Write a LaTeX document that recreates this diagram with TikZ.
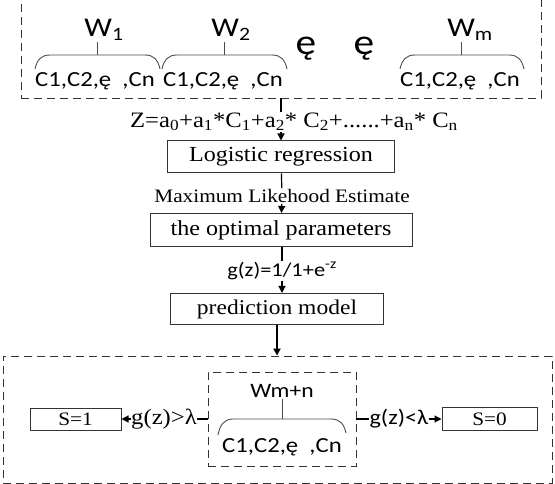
\documentclass[tikz,border=0pt]{standalone}
\usepackage{fontspec}
\setmainfont{Liberation Serif}[FakeStretch=1.12]
\newfontfamily\calibri{Carlito}[FakeStretch=1.15]
\usetikzlibrary{arrows.meta}

\begin{document}
\begin{tikzpicture}[x=1pt,y=-1pt]
    \tikzstyle{frame}=[rectangle,draw=black!80,line width=0.9pt,dash pattern=on 8pt off 5pt,inner sep=0pt]
    \tikzstyle{box}=[rectangle,draw=black!80,line width=1pt,inner sep=0pt,font=\fontsize{21.5}{21.5}\selectfont]
    \tikzstyle{lbl}=[inner sep=1pt,font=\fontsize{19}{19}\selectfont]
    \tikzstyle{slbl}=[inner sep=1pt,font=\calibri\fontsize{21.5}{21.5}\selectfont]
    \tikzstyle{arr}=[-{Triangle[length=7pt,width=7pt]},line width=1.2pt]
    \tikzstyle{brace}=[draw=black!70,line width=0.9pt]

    \useasboundingbox (0,0) rectangle (555,484);

    % Input groups
    \node [frame,minimum width=520pt,minimum height=112pt] (top) at (281,42) {};

    \node [slbl,font=\calibri\fontsize{27}{27}\selectfont] (w1) at (104,30) {W\textsubscript{1}};
    \node [slbl,font=\calibri\fontsize{27}{27}\selectfont] (w2) at (231,30) {W\textsubscript{2}};
    \node [slbl,font=\calibri\fontsize{27}{27}\selectfont] (wm) at (470,30) {W\textsubscript{m}};
    \node [slbl,font=\calibri\fontsize{36}{36}\selectfont] (e1) at (306,49) {ę};
    \node [slbl,font=\calibri\fontsize{36}{36}\selectfont] (e2) at (364,49) {ę};

    \coordinate (b1) at (97,55);
    \coordinate (b2) at (224,55);
    \coordinate (bm) at (461,55);
    \draw [brace] (w1.south -| b1) -- (b1);
    \draw [brace] (w2.south -| b2) -- (b2);
    \draw [brace] (wm.south -| bm) -- (bm);

    \draw [brace] (35,69) .. controls (37,60) and (41,55) .. (50,55) -- (145,55)
        .. controls (154,55) and (158,60) .. (160,69);
    \draw [brace] (162,69) .. controls (164,60) and (168,55) .. (177,55) -- (272,55)
        .. controls (281,55) and (285,60) .. (287,69);
    \draw [brace] (400,69) .. controls (402,60) and (406,55) .. (415,55) -- (509,55)
        .. controls (518,55) and (522,60) .. (524,69);

    \node [slbl] (c1) at (95,81) {C1,C2,ę\ \ ,Cn};
    \node [slbl] (c2) at (223,81) {C1,C2,ę\ \ ,Cn};
    \node [slbl] (cm) at (460,81) {C1,C2,ę\ \ ,Cn};

    % Regression steps
    \node [lbl,font=\fontsize{22}{22}\selectfont] (z) at (294,122) {Z=a\textsubscript{0}+a\textsubscript{1}*C\textsubscript{1}+a\textsubscript{2}* C\textsubscript{2}+......+a\textsubscript{n}* C\textsubscript{n}};
    \node [box,minimum width=227pt,minimum height=32pt] (logit) at (281,157) {Logistic regression};
    \node [lbl] (mle) at (282,196) {Maximum Likehood Estimate};
    \node [box,minimum width=262pt,minimum height=33pt] (optim) at (281,230) {the optimal parameters};
    \node [slbl,font=\calibri\fontsize{19.5}{19.5}\selectfont] (gz) at (282,271) {g(z)=1/1+e\textsuperscript{-z}};
    \node [box,minimum width=213pt,minimum height=31pt,font=\fontsize{21}{21}\selectfont] (pred) at (277,309) {prediction model};

    \draw [line width=1.2pt] (logit |- top.south) -- (logit |- z.north);
    \draw [arr] (logit |- z.south) -- (logit);
    \draw [line width=1.2pt] (logit) -- (mle);
    \draw [arr] (mle) -- (optim);
    \draw [line width=1.2pt] (gz |- optim.south) -- (gz.north);
    \draw [arr] (gz.south) -- (gz.south |- pred.north);

    % Output
    \node [frame,minimum width=549pt,minimum height=127pt] (out) at (277.5,419.5) {};
    \draw [arr,line width=2pt] (pred.south) -- (pred.south |- out.north);

    \node [frame,minimum width=148pt,minimum height=94pt] (wn) at (282,419) {};
    \node [slbl,font=\calibri\fontsize{20.5}{20.5}\selectfont] (wmn) at (282,391) {Wm+n};
    \coordinate (bn) at (282,419);
    \draw [brace] (wmn.south) -- (bn);
    \draw [brace] (218,435) .. controls (220,425) and (224,419) .. (233,419) -- (331,419)
        .. controls (340,419) and (344,424) .. (346,433);
    \node [slbl] (cn) at (282,447) {C1,C2,ę\ \ ,Cn};

    \node [box,minimum width=91pt,minimum height=22pt,font=\fontsize{19}{19}\selectfont] (s1) at (75.5,419) {S=1};
    \node [box,minimum width=95pt,minimum height=23pt,font=\fontsize{19}{19}\selectfont] (s0) at (489.5,419) {S=0};
    \node [lbl,inner sep=0pt,font=\fontsize{22}{22}\selectfont] (gt) at (164,419) {g(z)>λ};
    \node [slbl,inner sep=0pt,font=\calibri\fontsize{21}{21}\selectfont] (lt) at (399,419) {g(z)<λ};

    \draw [line width=1.2pt] (wn.west) -- (gt.east);
    \draw [arr] (gt.west) -- (s1.east);
    \draw [line width=1.2pt] (wn.east) -- (lt.west);
    \draw [arr] (lt.east) -- (s0.west);
\end{tikzpicture}
\end{document}
